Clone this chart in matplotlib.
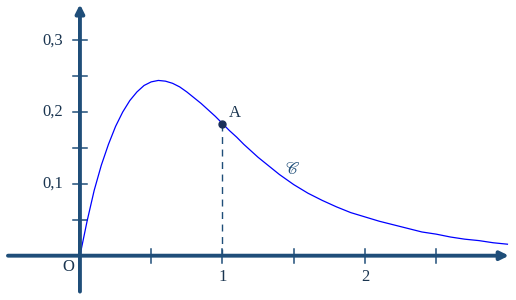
import matplotlib.pyplot as plt

# values
xs = [0, 0.05, 0.1, 0.15, 0.2, 0.25, 0.3, 0.35, 0.4, 0.45, 0.5, 0.55,
      0.6, 0.65, 0.7, 0.75, 0.8, 0.85, 0.9, 0.95, 1.0, 1.05, 1.1, 1.15,
      1.2, 1.25, 1.3, 1.35, 1.4, 1.45, 1.5, 1.6, 1.7, 1.8, 1.9, 2.0,
      2.1, 2.2, 2.3, 2.4, 2.5, 2.6, 2.7, 2.8, 2.9, 3.0]
ys = [0, 0.048, 0.091, 0.126, 0.155, 0.180, 0.200, 0.216, 0.228, 0.237,
      0.242, 0.244, 0.243, 0.240, 0.235, 0.228, 0.220, 0.212, 0.203, 0.194,
      0.184, 0.174, 0.165, 0.155, 0.146, 0.137, 0.129, 0.121, 0.113, 0.106,
      0.099, 0.087, 0.077, 0.068, 0.060, 0.054, 0.048, 0.043, 0.038, 0.033,
      0.030, 0.026, 0.023, 0.021, 0.018, 0.016]
xticks = [0.5, 1, 1.5, 2, 2.5]
xlabels = {1: '1', 2: '2'}
yticks = [0.05, 0.1, 0.15, 0.2, 0.25, 0.3]
ylabels = {0.1: '0,1', 0.2: '0,2', 0.3: '0,3'}
point_A = (1.0, 0.184)

navy = '#1f4e79'
txtc = '#1a3550'
fig = plt.figure(figsize=(5.16, 3.0), dpi=100)
ax = fig.add_axes([0, 0, 1, 1])
ax.set_xlim(-0.561, 3.06)
ax.set_ylim(-0.0617, 0.356)
ax.axis('off')

# axes with arrows
ax.annotate('', xy=(3.01, 0), xytext=(-0.505, 0),
            arrowprops=dict(arrowstyle='-|>,head_length=0.5,head_width=0.25',
                            lw=2.8, color=navy, shrinkA=0, shrinkB=0))
ax.annotate('', xy=(0, 0.35), xytext=(0, -0.05),
            arrowprops=dict(arrowstyle='-|>,head_length=0.5,head_width=0.25',
                            lw=2.8, color=navy, shrinkA=0, shrinkB=0))

tx = 0.049   # half tick length in x units
ty = 0.0097  # half tick length in y units
for t in xticks:
    ax.plot([t, t], [-ty, ty], color=navy, lw=1.1)
    if t in xlabels:
        ax.text(t, -0.029, xlabels[t], ha='center', va='center',
                fontsize=12, family='Liberation Serif', color=txtc)
for t in yticks:
    ax.plot([-tx, tx], [t, t], color=navy, lw=1.1)
    if t in ylabels:
        ax.text(-0.12, t, ylabels[t], ha='right', va='center',
                fontsize=12, family='Liberation Serif', color=txtc)
ax.text(-0.082, -0.0155, 'O', ha='center', va='center',
        fontsize=12, family='Liberation Serif', color=txtc)

# curve
ax.plot(xs, ys, color='#0000ff', lw=0.9, solid_joinstyle='round')

# point A and its dashed projection
ax.plot([point_A[0], point_A[0]], [0, point_A[1]], color=navy, lw=1,
        ls=(0, (5, 4)))
ax.plot(*point_A, 'o', color='#1a2f5a', ms=5)
ax.text(1.045, 0.199, 'A', ha='left', va='center', fontsize=12,
        family='Liberation Serif', color=txtc)
ax.text(1.49, 0.121, r'$\mathscr{C}$', ha='center', va='center',
        fontsize=12, math_fontfamily='stix', color=navy)

fig.savefig('out.png', dpi=100)
